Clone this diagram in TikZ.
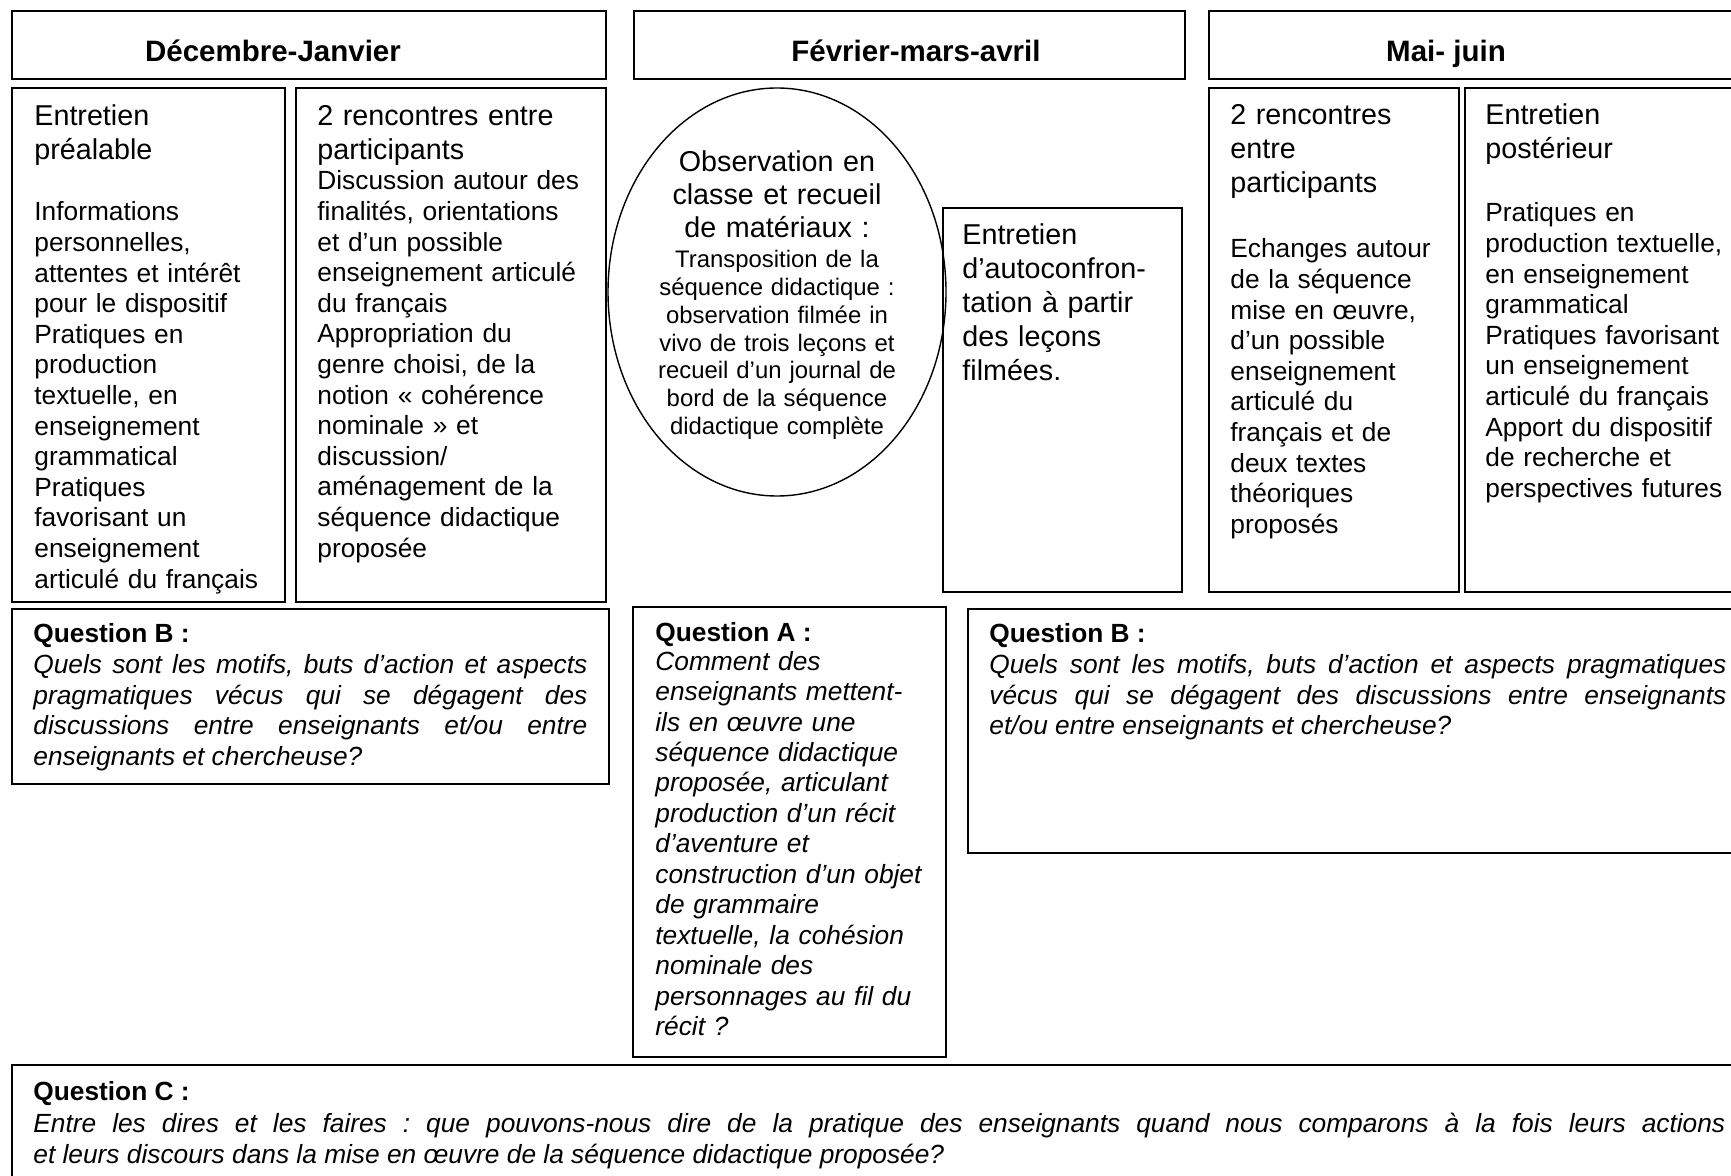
\documentclass[tikz,border=0pt]{standalone}
\usepackage{fontspec}
\setmainfont{Liberation Sans}
\frenchspacing
\newcommand\SzBody{\fontsize{13.15pt}{15.3pt}\selectfont}
\newcommand\SzTitle{\fontsize{14.35pt}{17pt}\selectfont}
\newcommand\SzEll{\fontsize{14.35pt}{16.5pt}\selectfont}
\newcommand\SzHead{\fontsize{14.75pt}{17pt}\selectfont\bfseries}
\newcommand\SzSmall{\fontsize{11.95pt}{13.85pt}\selectfont}
\newcommand\SzQ{\fontsize{13.15pt}{15.25pt}\selectfont}
\newcommand\SzQC{\fontsize{13.15pt}{15.7pt}\selectfont}
\newcommand\LooseJust{\tolerance=9999 \hyphenpenalty=10000 \emergencystretch=0pt }
\begin{document}
\begin{tikzpicture}[x=0.5pt,y=-0.5pt,
  boxline/.style={draw=black,line width=1pt},
  qline/.style={draw=black,line width=1.1pt},
  headtxt/.style={anchor=base,inner sep=0pt,font=\SzHead},
  titletxt/.style={anchor=base west,inner sep=0pt,align=left,text width=#1,font=\SzTitle},
  bodytxt/.style={anchor=base west,inner sep=0pt,align=left,text width=#1,font=\SzBody},
  qtitle/.style={anchor=base west,inner sep=0pt,font=\SzQ\bfseries},
  qtext/.style={anchor=base west,inner sep=0pt,align=justify,text width=#1,font=\SzQ\itshape},
  qtextleft/.style={anchor=base west,inner sep=0pt,align=left,text width=#1,font=\SzQ\itshape},
]
\useasboundingbox (0,0) rectangle (1731,1176);
\clip (0,0) rectangle (1731,1176);
\fill[white] (0,0) rectangle (1731,1176);

% headers
\draw[boxline] (12,11) rectangle (606,79);
\draw[boxline] (634,11) rectangle (1185,79);
\draw[boxline] (1209,11) rectangle (1760,79);
\node[headtxt] (h1) at (273,62) {Décembre-Janvier};
\node[headtxt] (h2) at (916,62) {Février-mars-avril};
\node[headtxt] (h3) at (1446,62) {Mai- juin};

% Décembre-Janvier boxes
\draw[boxline] (12,88) rectangle (285,602);
\draw[boxline] (296,88) rectangle (606,602);
\node[titletxt=125pt] (b1t) at (34,126) {Entretien\\préalable};
\node[bodytxt=125pt] (b1b) at (34,221) {Informations\\personnelles,\\attentes et intérêt\\pour le dispositif\\Pratiques en\\production\\textuelle, en\\enseignement\\grammatical\\Pratiques\\favorisant un\\enseignement\\articulé du français};
\node[titletxt=145pt] (b2t) at (317,126) {2 rencontres entre\\participants};
\node[bodytxt=145pt] (b2b) at (317,190) {Discussion autour des\\finalités, orientations\\et d’un possible\\enseignement articulé\\du français\\Appropriation du\\genre choisi, de la\\notion « cohérence\\nominale » et\\discussion/\\aménagement de la\\séquence didactique\\proposée};

% Février-mars-avril
\draw[line width=0.7pt] (777,292) ellipse [x radius=169, y radius=204];
\node[anchor=base,inner sep=0pt,align=center,text width=160pt,font=\SzEll] (ellt) at (777,172) {Observation en\\classe et recueil\\de matériaux :};
\node[anchor=base,inner sep=0pt,align=center,text width=160pt,font=\SzSmall] (ellb) at (777,268) {Transposition de la\\séquence didactique :\\observation filmée in\\vivo de trois leçons et\\recueil d’un journal de\\bord de la séquence\\didactique complète};
\draw[boxline] (943,208) rectangle (1182,592);
\node[titletxt=115pt] (act) at (962,245) {Entretien\\d’autoconfron-\\tation à partir\\des leçons\\filmées.};

% Mai-juin boxes
\draw[boxline] (1209,88) rectangle (1459,592);
\draw[boxline] (1465,88) rectangle (1760,592);
\node[titletxt=115pt] (m1t) at (1230,125) {2 rencontres\\entre\\participants};
\node[bodytxt=115pt] (m1b) at (1230,258) {Echanges autour\\de la séquence\\mise en œuvre,\\d’un possible\\enseignement\\articulé du\\français et de\\deux textes\\théoriques\\proposés};
\node[titletxt=130pt] (m2t) at (1485,125) {Entretien\\postérieur};
\node[bodytxt=130pt] (m2b) at (1485,222) {Pratiques en\\production textuelle,\\en enseignement\\grammatical\\Pratiques favorisant\\un enseignement\\articulé du français\\Apport du dispositif\\de recherche et\\perspectives futures};

% Questions
\draw[qline] (12,609) rectangle (609,784);
\node[qtitle] (qblt) at (33,643) {Question B :};
\node[qtext=277pt] (qblb) at (33,674) {\LooseJust Quels sont les motifs, buts d’action et aspects\linebreak pragmatiques vécus qui se dégagent des\linebreak discussions entre enseignants et/ou entre\linebreak enseignants et chercheuse?};

\draw[qline] (633,607) rectangle (946,1057);
\node[qtitle] (qat) at (655,642) {Question A :};
\node[qtextleft=140pt] (qab) at (655,670) {Comment des\\enseignants mettent-\\ils en œuvre une\\séquence didactique\\proposée, articulant\\production d’un récit\\d’aventure et\\construction d’un objet\\de grammaire\\textuelle, la cohésion\\nominale des\\personnages au fil du\\récit ?};

\draw[qline] (968,609) rectangle (1760,853);
\node[qtitle] (qbrt) at (989,643) {Question B :};
\node[qtext=368.5pt] (qbrb) at (989,674) {\LooseJust Quels sont les motifs, buts d’action et aspects pragmatiques\linebreak vécus qui se dégagent des discussions entre enseignants\linebreak et/ou entre enseignants et chercheuse?};

\draw[qline] (12,1065) rectangle (1760,1200);
\node[qtitle] (qct) at (33,1100) {Question C :};
\node[qtext=846pt,font=\SzQC\itshape] (qcb) at (33,1132) {\LooseJust Entre les dires et les faires : que pouvons-nous dire de la pratique des enseignants quand nous comparons à la fois leurs actions\linebreak et leurs discours dans la mise en œuvre de la séquence didactique proposée?};
\end{tikzpicture}
\end{document}
